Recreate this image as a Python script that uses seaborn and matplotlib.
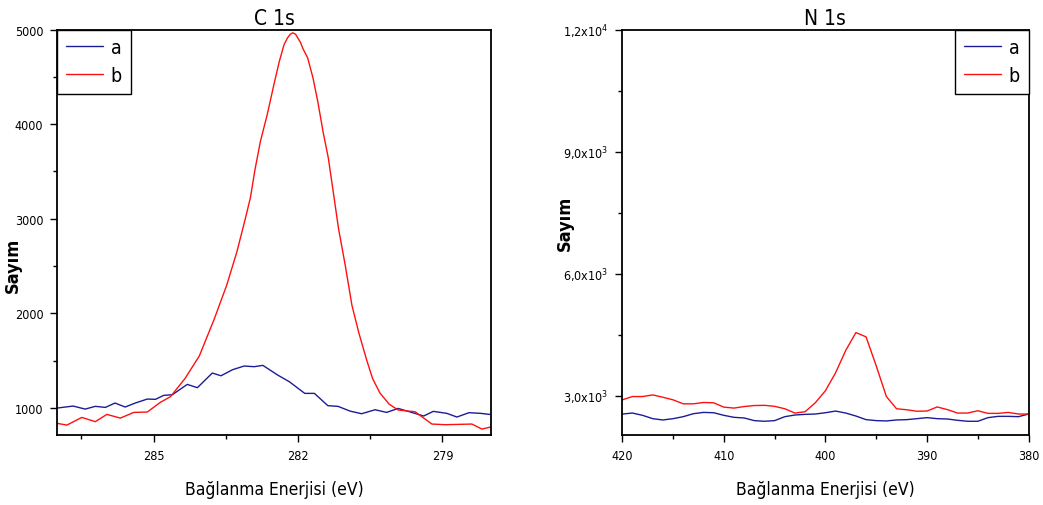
import matplotlib
matplotlib.use('Agg')
import matplotlib.pyplot as plt
from matplotlib.ticker import MultipleLocator, FixedLocator
import seaborn as sns

sns.set_style('white')
plt.rcParams['font.family'] = ['DejaVu Sans', 'Liberation Sans']
plt.rcParams['font.stretch'] = 'condensed'
plt.rcParams['mathtext.fontset'] = 'custom'
plt.rcParams['mathtext.rm'] = 'DejaVu Sans:stretch=condensed'
for k in ['text.color', 'axes.labelcolor', 'xtick.color', 'ytick.color']:
    plt.rcParams[k] = 'black'

# C 1s
c_e_a = [287.0, 286.67, 286.42, 286.21, 286.0, 285.8, 285.59, 285.38, 285.13, 284.96,
         284.79, 284.61, 284.3, 284.09, 283.78, 283.6, 283.36, 283.12, 282.91, 282.73,
         282.42, 282.18, 281.86, 281.66, 281.38, 281.17, 280.92, 280.68, 280.4, 280.16,
         279.92, 279.64, 279.39, 279.19, 278.91, 278.7, 278.45, 278.21, 277.97]
c_a = [1000, 1021, 989, 1018, 1007, 1053, 1011, 1053, 1095, 1092,
       1134, 1141, 1250, 1215, 1370, 1341, 1405, 1444, 1437, 1451,
       1348, 1278, 1155, 1155, 1025, 1018, 968, 940, 982, 954,
       996, 954, 916, 965, 944, 905, 951, 944, 930]
c_e_b = [287.0, 286.8, 286.49, 286.21, 285.97, 285.69, 285.41, 285.13, 284.86, 284.65,
         284.35, 284.05, 283.74, 283.48, 283.27, 283.1, 282.99, 282.89, 282.78, 282.64,
         282.5, 282.39, 282.29, 282.22, 282.16, 282.11, 282.05, 282.01, 281.95, 281.9,
         281.8, 281.69, 281.59, 281.48, 281.37, 281.27, 281.16, 281.02, 280.88, 280.74,
         280.57, 280.45, 280.3, 280.11, 279.92, 279.57, 279.22, 278.94, 278.39, 278.18,
         277.97]
c_b = [838, 820, 901, 856, 933, 894, 954, 958, 1060, 1120,
       1310, 1550, 1940, 2300, 2650, 2990, 3220, 3530, 3820, 4100,
       4420, 4660, 4840, 4910, 4950, 4965, 4950, 4915, 4865, 4800,
       4700, 4490, 4240, 3920, 3640, 3290, 2900, 2510, 2085, 1800,
       1500, 1310, 1160, 1042, 979, 961, 831, 824, 831, 778,
       803]

# N 1s
n_e = [420, 419, 418, 417, 416, 415, 414, 413, 412, 411,
       410, 409, 408, 407, 406, 405, 404, 403, 402, 401,
       400, 399, 398, 397, 396, 395, 394, 393, 392, 391,
       390, 389, 388, 387, 386, 385, 384, 383, 382, 381, 380]
n_a = [2546, 2570, 2514, 2432, 2400, 2432, 2481, 2554, 2586, 2578,
       2514, 2465, 2449, 2384, 2368, 2384, 2481, 2522, 2538, 2546,
       2578, 2619, 2570, 2497, 2408, 2384, 2376, 2400, 2408, 2432,
       2457, 2432, 2424, 2392, 2368, 2368, 2457, 2489, 2489, 2481, 2546]
n_b = [2895, 2976, 2976, 3016, 2959, 2895, 2797, 2797, 2830, 2822,
       2716, 2692, 2730, 2755, 2760, 2735, 2676, 2570, 2603, 2822,
       3120, 3560, 4110, 4549, 4443, 3730, 2976, 2676, 2651, 2615,
       2620, 2720, 2655, 2570, 2570, 2627, 2562, 2562, 2586, 2546, 2546]

blue = '#1c1c96'
red = '#ff1010'

n_yticks = [3000, 6000, 9000, 12000]
n_ylabels = [r'3,0x10$^{3}$', r'6,0x10$^{3}$', r'9,0x10$^{3}$', r'1,2x10$^{4}$']

fig = plt.figure(figsize=(10.43, 5.06), dpi=100)
ax1 = fig.add_axes([0.0549, 0.1383, 0.4155, 0.8014])
ax2 = fig.add_axes([0.5966, 0.1383, 0.3896, 0.8014])

sns.lineplot(x=c_e_a, y=c_a, color=blue, lw=1, label='a', ax=ax1, sort=False)
sns.lineplot(x=c_e_b, y=c_b, color=red, lw=1, label='b', ax=ax1, sort=False)
sns.lineplot(x=n_e, y=n_a, color=blue, lw=1, label='a', ax=ax2, sort=False)
sns.lineplot(x=n_e, y=n_b, color=red, lw=1, label='b', ax=ax2, sort=False)

ax1.set_xlim(287, 278)
ax1.set_ylim(715, 5000)
ax1.xaxis.set_major_locator(FixedLocator([285, 282, 279]))
ax1.xaxis.set_minor_locator(MultipleLocator(1.5))
ax1.yaxis.set_major_locator(MultipleLocator(1000))
ax1.yaxis.set_minor_locator(MultipleLocator(500))

ax2.set_xlim(420, 380)
ax2.set_ylim(2030, 12000)
ax2.xaxis.set_major_locator(MultipleLocator(10))
ax2.xaxis.set_minor_locator(MultipleLocator(5))
ax2.set_yticks(n_yticks)
ax2.set_yticklabels(n_ylabels)
ax2.yaxis.set_minor_locator(MultipleLocator(1500))

for ax, title, leg_loc in [(ax1, 'C 1s', 'upper left'), (ax2, 'N 1s', 'upper right')]:
    for sp in ax.spines.values():
        sp.set_visible(True)
        sp.set_color('black')
        sp.set_linewidth(1.3)
    ax.tick_params(which='both', direction='out', bottom=True, left=True,
                   top=False, right=False, labelsize=9, color='black', width=1)
    ax.tick_params(which='major', length=5, pad=5)
    ax.tick_params(which='minor', length=3)
    ax.set_title(title, fontsize=15, pad=4)
    ax.set_xlabel('Bağlanma Enerjisi (eV)', fontsize=12.5, labelpad=13)
    ax.set_ylabel('Sayım', fontsize=13, fontweight='bold')
    leg = ax.legend(loc=leg_loc, borderaxespad=0, fontsize=14, handlelength=1.9,
                    fancybox=False, framealpha=1, edgecolor='black',
                    borderpad=0.45, labelspacing=0.45, handletextpad=0.4)
    leg.get_frame().set_linewidth(1)

ax1.yaxis.set_label_coords(-0.081, 0.42)
ax2.yaxis.set_label_coords(-0.119, 0.524)

fig.savefig('out.png', dpi=100)
